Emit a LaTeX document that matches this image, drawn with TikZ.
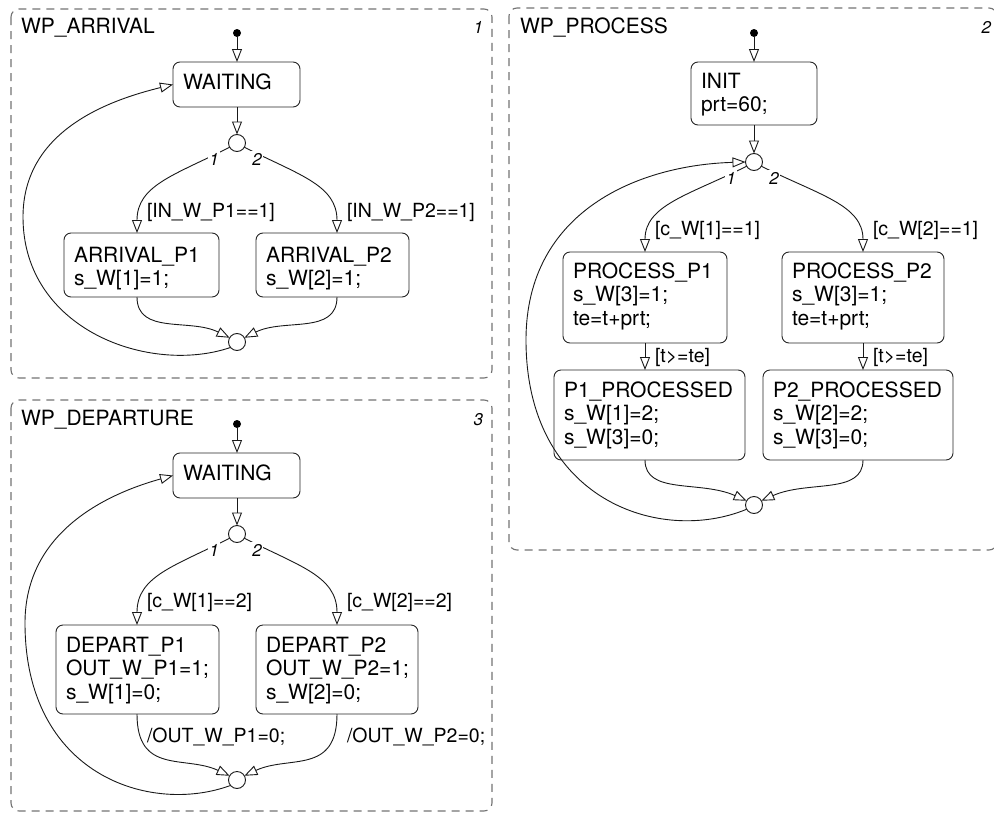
\documentclass[tikz,border=0pt]{standalone}
\usepackage{fontspec}
\setmainfont{TeX Gyre Heros}
\usetikzlibrary{arrows.meta,calc}
\begin{document}
\begin{tikzpicture}[x=1pt,y=-1pt,
  every node/.style={inner sep=0pt, outer sep=0pt},
  conn/.style={line width=0.9pt, draw=black!90, -{Triangle[open,length=13pt,width=10pt]}},
  frame/.style={draw=black!55, line width=1.1pt, dash pattern=on 8pt off 6pt, rounded corners=8pt},
  title/.style={anchor=base west, font=\fontsize{21}{24}\selectfont},
  boxnum/.style={anchor=base east, font=\fontsize{17}{19}\selectfont\itshape},
  bnum/.style={fill=white, inner sep=1.5pt, font=\fontsize{17}{19}\selectfont\itshape},
  guard/.style={anchor=base west, font=\fontsize{19.5}{22}\selectfont},
  junc/.style={circle, draw=black!90, line width=0.9pt, minimum size=17pt},
  initdot/.style={circle, fill=black, minimum size=8pt},
  state/.style={draw=black!85, line width=0.9pt, rounded corners=7pt, anchor=north west,
    inner xsep=10pt, inner ysep=0pt, align=left, font=\fontsize{21}{23.5}\selectfont},
]
\useasboundingbox (0,0) rectangle (994,814);

% frames
\draw[frame] (11,9) rectangle (492,378);
\draw[frame] (11,400) rectangle (492,811);
\draw[frame] (509,8) rectangle (997,550);

\node[title] (tA) at (21,33) {WP\_ARRIVAL};
\node[boxnum] (nA) at (483,33) {1};
\node[title] (tD) at (21,425) {WP\_DEPARTURE};
\node[boxnum] (nD) at (483,425) {3};
\node[title] (tP) at (520,33) {WP\_PROCESS};
\node[boxnum] (nP) at (991,33) {2};

% ---------- WP_ARRIVAL ----------
\node[initdot] (ia) at (237,33) {};
\node[state, text width=107pt, text height=27pt, text depth=18pt] (aw) at (173,62) {WAITING};
\node[junc] (aj1) at (237,143) {};
\node[state, text width=135pt, text height=29pt, text depth=35pt] (a1) at (64,233) {ARRIVAL\_P1\\s\_W[1]=1;};
\node[state, text width=133pt, text height=29pt, text depth=35pt] (a2) at (256,233) {ARRIVAL\_P2\\s\_W[2]=1;};
\node[junc] (aj2) at (237,342) {};

\draw[conn] (ia.south) -- (ia.south |- aw.north);
\draw[conn] (aj1 |- aw.south) -- (aj1.north);
\draw[conn] (aj1.210) .. controls (175,175) and (137,185) .. ($(a1.north west)+(73,0)$);
\draw[conn] (aj1.330) .. controls (299,175) and (337,185) .. ($(a2.north west)+(81,0)$);
\draw[conn] ($(a1.south west)+(73,0)$) .. controls (137,335) and (190,318) .. (aj2.150);
\draw[conn] ($(a2.south west)+(81,0)$) .. controls (337,335) and (284,318) .. (aj2.30);
\draw[conn] (aj2.220) .. controls (150,375) and (23,330) .. (23,217) .. controls (23,130) and (110,100) .. (aw.west);

\node[bnum] (aL1) at (214,159) {1};
\node[bnum] (aL2) at (257,159) {2};
\node[guard] (ag1) at (147,217) {[IN\_W\_P1==1]};
\node[guard] (ag2) at (347,217) {[IN\_W\_P2==1]};

% ---------- WP_DEPARTURE ----------
\node[initdot] (id) at (237,424) {};
\node[state, text width=107pt, text height=27pt, text depth=18pt] (dw) at (173,453) {WAITING};
\node[junc] (dj1) at (237,534) {};
\node[state, text width=143pt, text height=27pt, text depth=62pt] (d1) at (56,625) {DEPART\_P1\\OUT\_W\_P1=1;\\s\_W[1]=0;};
\node[state, text width=142pt, text height=27pt, text depth=62pt] (d2) at (256,625) {DEPART\_P2\\OUT\_W\_P2=1;\\s\_W[2]=0;};
\node[junc] (dj2) at (237,780) {};

\draw[conn] (id.south) -- (id.south |- dw.north);
\draw[conn] (dj1 |- dw.south) -- (dj1.north);
\draw[conn] (dj1.210) .. controls (175,566) and (137,576) .. ($(d1.north west)+(81,0)$);
\draw[conn] (dj1.330) .. controls (299,566) and (337,576) .. ($(d2.north west)+(81,0)$);
\draw[conn] ($(d1.south west)+(81,0)$) .. controls (137,775) and (185,755) .. (dj2.150);
\draw[conn] ($(d2.south west)+(81,0)$) .. controls (337,775) and (289,755) .. (dj2.30);
\draw[conn] (dj2.220) .. controls (150,815) and (25,775) .. (25,623) .. controls (25,530) and (110,493) .. (dw.west);

\node[bnum] (dL1) at (214,550) {1};
\node[bnum] (dL2) at (257,550) {2};
\node[guard] (dg1) at (147,607) {[c\_W[1]==2]};
\node[guard] (dg2) at (347,607) {[c\_W[2]==2]};
\node[guard] (da1) at (147,742) {/OUT\_W\_P1=0;};
\node[guard] (da2) at (347,742) {/OUT\_W\_P2=0;};

% ---------- WP_PROCESS ----------
\node[initdot] (ip) at (754,33) {};
\node[state, text width=106pt, text height=26pt, text depth=37pt] (pi) at (691,62) {INIT\\prt=60;};
\node[junc] (pj1) at (754,162) {};
\node[state, text width=144pt, text height=26pt, text depth=65pt] (p1) at (563,252) {PROCESS\_P1\\s\_W[3]=1;\\te=t+prt;};
\node[state, text width=142pt, text height=26pt, text depth=65pt] (p2) at (782,252) {PROCESS\_P2\\s\_W[3]=1;\\te=t+prt;};
\node[state, text width=171pt, text height=27pt, text depth=63pt] (q1) at (554,370) {P1\_PROCESSED\\s\_W[1]=2;\\s\_W[3]=0;};
\node[state, text width=170pt, text height=27pt, text depth=63pt] (q2) at (763,370) {P2\_PROCESSED\\s\_W[2]=2;\\s\_W[3]=0;};
\node[junc] (pj2) at (754,505) {};

\draw[conn] (ip.south) -- (ip.south |- pi.north);
\draw[conn] (pj1 |- pi.south) -- (pj1.north);
\draw[conn] (pj1.210) .. controls (689,195) and (645,205) .. ($(p1.north west)+(82,0)$);
\draw[conn] (pj1.330) .. controls (819,195) and (863,205) .. ($(p2.north west)+(81,0)$);
\draw[conn] ($(p1.south west)+(82,0)$) -- ($(q1.north west)+(91,0)$);
\draw[conn] ($(p2.south west)+(81,0)$) -- ($(q2.north west)+(100,0)$);
\draw[conn] ($(q1.south west)+(91,0)$) .. controls (645,495) and (700,480) .. (pj2.150);
\draw[conn] ($(q2.south west)+(100,0)$) .. controls (863,495) and (808,480) .. (pj2.30);
\draw[conn] (pj2.210) .. controls (660,545) and (526,500) .. (526,340) .. controls (526,210) and (640,165) .. (pj1.west);

\node[bnum] (pL1) at (731,178) {1};
\node[bnum] (pL2) at (774,178) {2};
\node[guard] (pg1) at (655,235) {[c\_W[1]==1]};
\node[guard] (pg2) at (873,235) {[c\_W[2]==1]};
\node[guard] (pt1) at (655,362) {[t>=te]};
\node[guard] (pt2) at (873,362) {[t>=te]};
\end{tikzpicture}
\end{document}
